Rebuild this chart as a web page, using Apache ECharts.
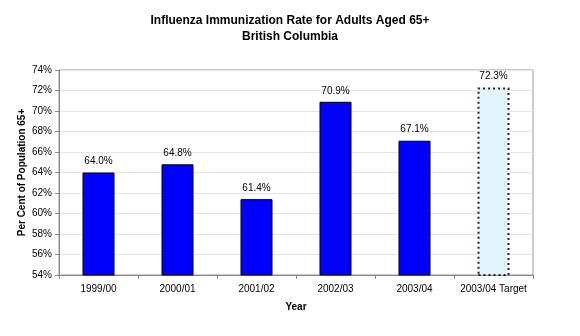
<!DOCTYPE html>
<html>
<head>
<meta charset="utf-8">
<script src="https://cdn.jsdelivr.net/npm/echarts@6/dist/echarts.min.js"></script>
<style>html,body{margin:0;padding:0;background:#fff}#c{width:580px;height:336px}</style>
</head>
<body>
<div id="c"></div>
<script>
var categories = ['1999/00', '2000/01', '2001/02', '2002/03', '2003/04', '2003/04 Target'];
var rates = [64.0, 64.8, 61.4, 70.9, 67.1, 72.3];
var targetIndex = 5;
var yTicks = { min: 54, max: 74, interval: 2 };

var chart = echarts.init(document.getElementById('c'), null, { renderer: 'canvas' });
var font = 'Liberation Sans, Arial, sans-serif';
var data = rates.map(function (v, i) {
  if (i === targetIndex) {
    return { value: v, itemStyle: { color: '#E1F4FE', borderColor: '#222', borderWidth: 2, borderType: [2, 3] } };
  }
  return { value: v };
});
chart.setOption({
  animation: false,
  backgroundColor: '#fff',
  title: {
    text: 'Influenza Immunization Rate for Adults Aged 65+\nBritish Columbia',
    left: 'center', top: 8,
    textStyle: { fontFamily: font, fontSize: 12, fontWeight: 'bold', color: '#000', lineHeight: 16 }
  },
  grid: { left: 59, right: 47, top: 70, bottom: 61, show: true, borderColor: '#999', borderWidth: 1 },
  xAxis: {
    type: 'category', data: categories, boundaryGap: true,
    name: 'Year', nameLocation: 'middle', nameGap: 27,
    nameTextStyle: { fontFamily: font, fontSize: 10, fontWeight: 'bold', color: '#000' },
    axisLine: { lineStyle: { color: '#888' } },
    axisTick: { show: true, alignWithLabel: false, interval: 0, length: 4, lineStyle: { color: '#888' } },
    axisLabel: { fontFamily: font, fontSize: 10, color: '#000', margin: 9, interval: 0 }
  },
  yAxis: {
    type: 'value', min: yTicks.min, max: yTicks.max, interval: yTicks.interval,
    name: 'Per Cent of Population 65+', nameLocation: 'middle', nameGap: 32,
    nameMoveOverlap: false,
    nameTextStyle: { fontFamily: font, fontSize: 10, fontWeight: 'bold', color: '#000' },
    axisLine: { show: true, lineStyle: { color: '#888' } },
    axisTick: { show: true, length: 4, lineStyle: { color: '#888' } },
    axisLabel: { fontFamily: font, fontSize: 10, color: '#000', margin: 7, formatter: '{value}%' },
    splitLine: { lineStyle: { color: '#e4e4e4' } }
  },
  series: [{
    type: 'bar', data: data, barWidth: 32,
    itemStyle: { color: '#0000FF', borderColor: '#000', borderWidth: 1 },
    label: {
      show: true, position: 'top', distance: 6,
      fontFamily: font, fontSize: 10, color: '#000',
      formatter: function (p) { return p.value.toFixed(1) + '%'; }
    }
  }]
});
</script>
</body>
</html>
